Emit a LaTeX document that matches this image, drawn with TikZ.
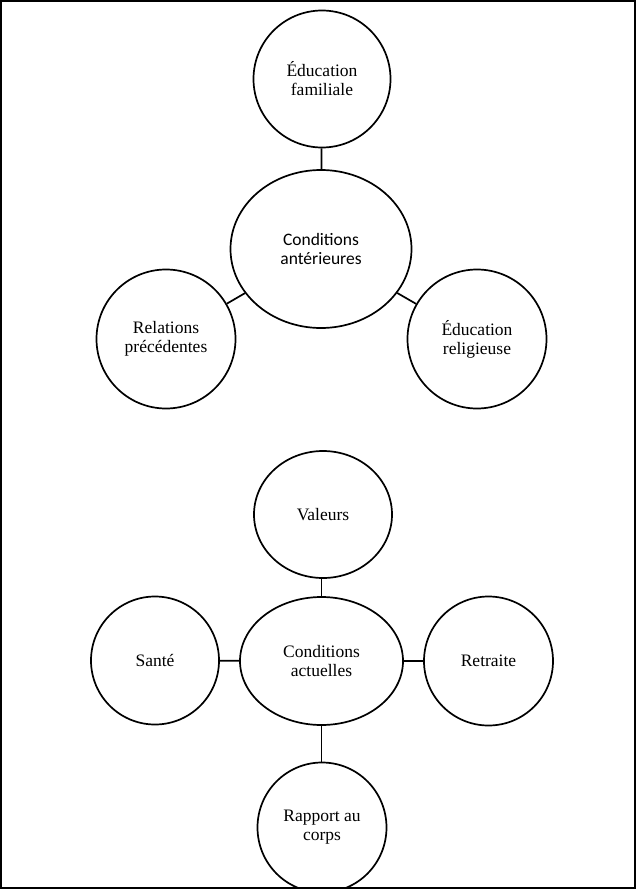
\documentclass[tikz,border=0pt]{standalone}
\usepackage{fontspec}
\setmainfont{Liberation Serif}
\newfontfamily\carlito{Carlito}
\usetikzlibrary{shapes}
\tikzstyle{bubble}=[circle,draw,line width=1.7pt,inner sep=0pt,align=center,font=\fontsize{17.5}{19}\selectfont]
\tikzstyle{hub}=[ellipse,draw,line width=1.7pt,inner sep=0pt,align=center,font=\fontsize{17.5}{19}\selectfont]

\begin{document}
\begin{tikzpicture}[x=1pt,y=-1pt,line width=1.7pt]
    \useasboundingbox (0,0) rectangle (639,889);
    \draw[line width=1.2pt] (1,1) rectangle (635,888);
    % conditions anterieures
    \node[hub,minimum width=181pt,minimum height=158pt,font=\carlito\fontsize{17.5}{19}\selectfont] (ANT) at (321,249) {Conditions\\antérieures};
    \node[bubble,minimum size=137pt] (FAM) at (322,79)  {Éducation\\familiale};
    \node[bubble,minimum size=139pt] (REL) at (166,339) {Relations\\précédentes};
    \node[bubble,minimum size=139pt] (RELIG) at (477,339) {Éducation\\religieuse};
    \draw (FAM) -- (ANT);
    \draw (ANT) -- (REL);
    \draw (ANT) -- (RELIG);
    % conditions actuelles
    \node[hub,minimum width=163pt,minimum height=128pt] (ACT) at (321.5,661) {Conditions\\actuelles};
    \node[hub,minimum width=138pt,minimum height=127pt] (VAL) at (323,514.5) {Valeurs};
    \node[bubble,minimum size=128pt] (SAN) at (155,660.5) {Santé};
    \node[bubble,minimum size=129pt] (RET) at (488.5,661) {Retraite};
    \node[hub,minimum width=129pt,minimum height=130pt] (CORPS) at (322,827.5) {Rapport au\\corps};
    \draw (VAL.south -| ACT.north) -- (ACT.north);
    \draw (SAN) -- (ACT);
    \draw (ACT) -- (RET);
    \draw (ACT.south) -- (ACT.south |- CORPS.north);
\end{tikzpicture}
\end{document}
